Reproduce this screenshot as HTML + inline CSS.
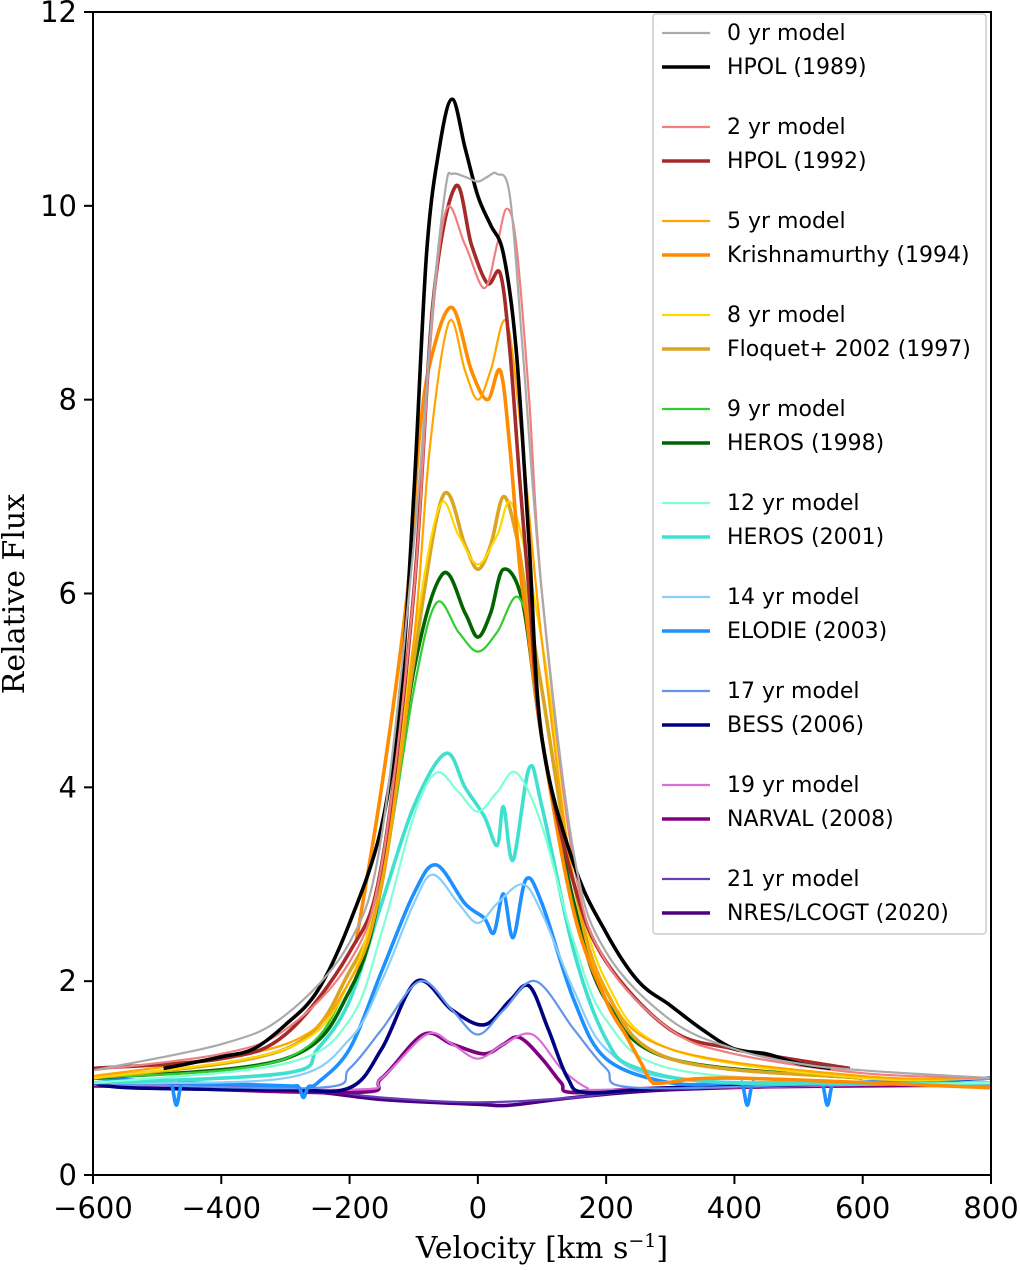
<!DOCTYPE html>
<html><head><meta charset="utf-8"><style>
body{margin:0;background:#fff}
svg text{font-family:"DejaVu Sans","Liberation Sans",sans-serif}
</style></head><body>
<svg id="chart" width="1020" height="1266" viewBox="0 0 1020 1266" xmlns="http://www.w3.org/2000/svg">
<g id="series"></g>
<rect x="93" y="12" width="898" height="1163" fill="none" stroke="#000" stroke-width="2"/>
<g id="axes"></g>
<text x="542" y="1258" text-anchor="middle" font-size="30" style="font-family:'DejaVu Serif','Liberation Serif',serif">Velocity [km s<tspan dy="-11" font-size="19">−1</tspan><tspan dy="11">]</tspan></text>
<text transform="translate(24,594) rotate(-90)" text-anchor="middle" font-size="30" style="font-family:'DejaVu Serif','Liberation Serif',serif">Relative Flux</text>
<rect x="653" y="14" width="333" height="920" fill="#fff" fill-opacity="0.9" stroke="#ccc" stroke-width="1.5" rx="3"/>
<g id="legend"></g>
</svg>
<script>
const xTicks=[-600,-400,-200,0,200,400,600,800];
const yTicks=[0,2,4,6,8,10,12];
const seriesNames=["0 yr model","HPOL (1989)","2 yr model","HPOL (1992)","5 yr model","Krishnamurthy (1994)","8 yr model","Floquet+ 2002 (1997)","9 yr model","HEROS (1998)","12 yr model","HEROS (2001)","14 yr model","ELODIE (2003)","17 yr model","BESS (2006)","19 yr model","NARVAL (2008)","21 yr model","NRES/LCOGT (2020)"];
const seriesColors=["#aaaaaa","#000000","#f08080","#a52a2a","#ffa500","#ff8c00","#ffd700","#daa520","#32cd32","#006400","#7fffd4","#40e0d0","#87cefa","#1e90ff","#6495ed","#000080","#da70d6","#800080","#6a3db8","#4b0082"];
const v0m=[-600,-400,-300,-200,-150,-100,-70,-50,-40,-20,0,15,30,50,70,100,150,200,300,400,500,600,800];
const f0m=[1.08,1.35,1.65,2.4,3.5,6.5,9.0,10.2,10.33,10.3,10.25,10.3,10.33,10.1,8.5,6.0,3.3,2.3,1.6,1.3,1.15,1.08,1.0];
const vH89=[-490,-450,-400,-350,-300,-250,-200,-150,-120,-100,-80,-60,-40,-20,0,20,40,60,80,100,150,200,250,300,350,400,450,500,550];
const fH89=[1.1,1.15,1.22,1.3,1.55,1.9,2.6,3.6,5.0,7.0,9.5,10.6,11.1,10.6,10.1,9.8,9.5,8.5,6.5,4.5,3.2,2.5,2.0,1.75,1.5,1.3,1.25,1.15,1.1];
const v2m=[-600,-400,-300,-200,-150,-100,-75,-50,-20,10,30,45,60,80,100,150,200,300,400,600,800];
const f2m=[1.08,1.25,1.5,2.2,3.2,6.0,8.5,9.95,9.6,9.15,9.6,9.97,9.6,8.0,6.0,3.2,2.2,1.5,1.25,1.05,1.0];
const vH92=[-600,-400,-300,-200,-150,-100,-70,-35,-10,15,35,50,65,80,100,150,200,300,400,580];
const fH92=[1.1,1.2,1.45,2.3,3.2,6.0,9.0,10.2,9.6,9.2,9.3,8.5,7.2,6.0,4.5,3.0,2.2,1.5,1.3,1.1];
const v5m=[-600,-300,-200,-150,-100,-75,-45,-20,0,20,45,70,100,150,200,300,600,800];
const f5m=[1.02,1.35,2.0,3.0,5.5,7.5,8.8,8.3,8.0,8.3,8.8,7.5,5.5,3.0,1.9,1.3,1.02,1.0];
const vK94=[-190,-150,-110,-90,-70,-40,-10,15,35,50,65,75,100,150,200,230,255,270,290,400,800];
const fK94=[2.4,4.0,6.0,7.7,8.5,8.95,8.3,8.0,8.3,7.5,6.3,5.8,4.5,2.7,1.8,1.45,1.15,0.97,0.95,1.0,0.9];
const v8m=[-600,-300,-200,-150,-100,-60,-30,0,30,55,100,150,200,300,600,800];
const f8m=[1.0,1.3,2.0,3.2,5.5,6.9,6.6,6.3,6.6,6.9,5.5,3.2,2.0,1.3,1.0,1.0];
const vF97=[-600,-300,-200,-150,-100,-55,-20,0,20,40,60,75,100,150,200,300,600];
const fF97=[1.0,1.3,2.1,3.0,5.3,7.0,6.5,6.25,6.5,7.0,6.6,6.0,5.0,3.0,1.9,1.2,1.0];
const v9m=[-600,-300,-200,-150,-100,-65,-30,0,30,65,100,150,200,300,600,800];
const f9m=[1.0,1.2,2.0,3.0,5.0,5.9,5.6,5.4,5.6,5.95,5.0,3.0,1.9,1.2,1.0,1.0];
const vH98=[-600,-300,-200,-150,-100,-55,-20,0,20,40,70,100,150,200,300,600];
const fH98=[1.0,1.2,1.9,3.0,5.2,6.2,5.8,5.55,5.8,6.25,5.9,4.5,2.8,1.8,1.2,1.0];
const v12m=[-600,-300,-200,-150,-100,-65,-30,0,30,60,100,150,200,300,600,800];
const f12m=[0.95,1.15,1.6,2.5,3.7,4.15,3.95,3.75,3.95,4.15,3.6,2.4,1.6,1.1,0.95,0.95];
const vH01=[-600,-300,-250,-200,-150,-100,-50,-20,10,30,40,55,80,100,150,200,250,400,800];
const fH01=[0.95,1.05,1.3,1.8,2.8,3.8,4.35,4.0,3.7,3.4,3.8,3.25,4.2,3.8,2.3,1.4,1.1,0.95,0.95];
const v14m=[-600,-300,-200,-150,-100,-70,-30,0,30,70,100,150,200,300,600,800];
const f14m=[0.95,1.0,1.4,2.0,2.8,3.1,2.8,2.6,2.8,3.0,2.7,1.9,1.3,1.0,0.95,0.95];
const vE03=[-600,-490,-478,-470,-462,-450,-300,-280,-272,-264,-250,-200,-150,-100,-65,-20,10,25,40,55,75,100,150,200,300,400,412,420,428,440,525,537,545,553,565,800];
const fE03=[1.0,0.96,0.94,0.72,0.94,0.95,0.92,0.91,0.8,0.91,0.95,1.3,2.1,2.9,3.2,2.8,2.65,2.5,2.9,2.45,3.05,2.8,1.8,1.2,0.95,0.95,0.94,0.72,0.94,0.95,0.95,0.94,0.72,0.94,0.95,1.0];
const v17m=[-600,-250,-200,-150,-90,-40,0,40,90,150,200,250,600,800];
const f17m=[0.95,0.9,1.1,1.5,2.0,1.7,1.45,1.7,2.0,1.5,1.1,0.9,0.95,0.95];
const vB06=[-600,-540,-300,-200,-150,-95,-40,10,50,80,110,140,170,300,620,800];
const fB06=[0.95,0.9,0.88,0.9,1.3,2.0,1.7,1.55,1.8,1.95,1.5,1.0,0.85,0.9,0.95,1.0];
const v19m=[-600,-200,-150,-80,-40,0,40,85,130,170,200,600,800];
const f19m=[0.93,0.88,1.0,1.45,1.35,1.2,1.35,1.45,1.1,0.9,0.88,0.93,0.93];
const vN08=[-600,-200,-150,-85,-40,10,40,65,100,130,150,300,800];
const fN08=[0.93,0.85,1.0,1.45,1.35,1.25,1.35,1.42,1.2,0.95,0.85,0.9,0.93];
const v21m=[-600,-300,-150,0,150,300,600,800];
const f21m=[0.95,0.9,0.8,0.75,0.8,0.9,0.95,0.95];
const vR20=[-600,-300,-150,0,50,150,300,600,800];
const fR20=[0.92,0.88,0.78,0.73,0.72,0.8,0.88,0.93,0.93];
const seriesV=[v0m,vH89,v2m,vH92,v5m,vK94,v8m,vF97,v9m,vH98,v12m,vH01,v14m,vE03,v17m,vB06,v19m,vN08,v21m,vR20];
const seriesF=[f0m,fH89,f2m,fH92,f5m,fK94,f8m,fF97,f9m,fH98,f12m,fH01,f14m,fE03,f17m,fB06,f19m,fN08,f21m,fR20];

const NS="http://www.w3.org/2000/svg";
const X0=93,X1=991,Y0=1175,Y1=12;
const xs=v=>X0+(v+600)/1400*(X1-X0);
const ys=f=>Y0-f/12*(Y0-Y1);
function mk(t,a,p){const e=document.createElementNS(NS,t);for(const k in a)e.setAttribute(k,a[k]);p.appendChild(e);return e;}
function pathFor(vs,fs){
  const p=vs.map((v,i)=>[xs(v),ys(fs[i])]);
  let d="M"+p[0][0].toFixed(1)+","+p[0][1].toFixed(1);
  for(let i=0;i<p.length-1;i++){
    const a=p[Math.max(0,i-1)],b=p[i],c=p[i+1],e=p[Math.min(p.length-1,i+2)];
    const c1=[b[0]+(c[0]-a[0])/6,b[1]+(c[1]-a[1])/6],c2=[c[0]-(e[0]-b[0])/6,c[1]-(e[1]-b[1])/6];
    d+=" C"+c1[0].toFixed(1)+","+c1[1].toFixed(1)+" "+c2[0].toFixed(1)+","+c2[1].toFixed(1)+" "+c[0].toFixed(1)+","+c[1].toFixed(1);
  }
  return d;
}
const sg=document.getElementById("series");
const lg=document.getElementById("legend");
const ax=document.getElementById("axes");
const order=[];for(let i=seriesNames.length-1;i>=0;i--)order.push(i);
order.forEach(i=>{
  const isModel=i%2===0;
  const el=mk("path",{d:pathFor(seriesV[i],seriesF[i]),fill:"none",stroke:seriesColors[i],"stroke-width":isModel?2.2:3.6,"stroke-linejoin":"round"},sg);
  
  
});
seriesNames.forEach((n,i)=>{
  const grp=Math.floor(i/2),sub=i%2;
  const y=33+grp*94+sub*34;
  const ln=mk("line",{x1:662,x2:710,y1:y,y2:y,stroke:seriesColors[i],"stroke-width":sub?3.6:2.2},lg);
  
  
  const t=mk("text",{x:727,y:y+7,"font-size":22},lg);
  t.textContent=n;
  
  
});
xTicks.forEach(v=>{
  const x=xs(v);
  const tk=mk("line",{x1:x,x2:x,y1:Y0,y2:Y0+9,stroke:"#000","stroke-width":2},ax);
  
  
  const t=mk("text",{x:x,y:Y0+43,"text-anchor":"middle","font-size":29},ax);
  t.textContent=v<0?"−"+(-v):String(v);
  
  
});
yTicks.forEach(f=>{
  const y=ys(f);
  const tk=mk("line",{x1:X0-9,x2:X0,y1:y,y2:y,stroke:"#000","stroke-width":2},ax);
  
  
  const t=mk("text",{x:X0-16,y:y+10,"text-anchor":"end","font-size":29},ax);
  t.textContent=String(f);
  
  
});
</script>
</body></html>
